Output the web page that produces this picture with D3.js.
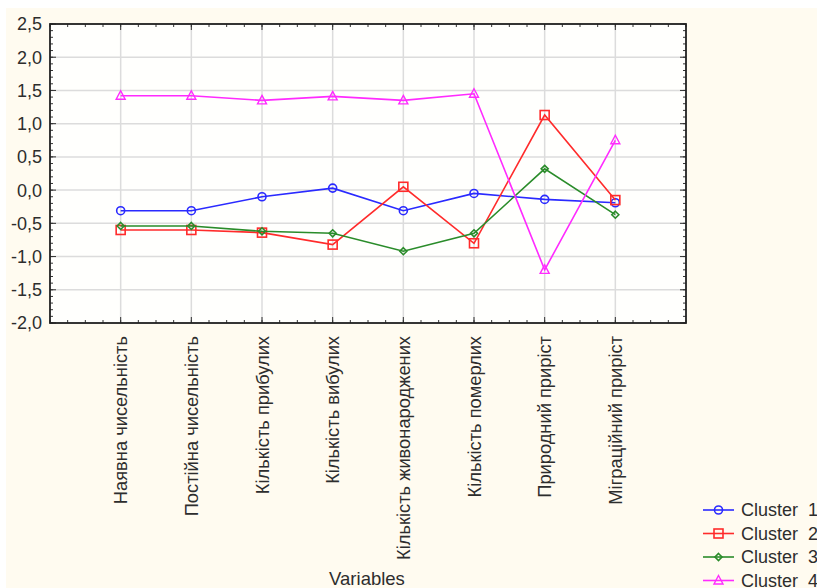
<!DOCTYPE html>
<html>
<head>
<meta charset="utf-8">
<script src="https://cdn.jsdelivr.net/npm/d3@7"></script>
<style>
  body { margin: 0; background: #fff; }
  svg { display: block; font-family: Arial, "Liberation Sans", sans-serif; }
</style>
</head>
<body>
<svg id="chart"></svg>
<script>
const variables = [
  "Наявна чисельність",
  "Постійна чисельність",
  "Кількість прибулих",
  "Кількість вибулих",
  "Кількість живонароджених",
  "Кількість померлих",
  "Природний приріст",
  "Міграційний приріст",
];

const cluster1 = [-0.31, -0.31, -0.1, 0.03, -0.31, -0.05, -0.14, -0.19];
const cluster2 = [-0.6, -0.6, -0.64, -0.82, 0.05, -0.8, 1.13, -0.15];
const cluster3 = [-0.54, -0.54, -0.62, -0.65, -0.92, -0.65, 0.32, -0.37];
const cluster4 = [1.42, 1.42, 1.35, 1.41, 1.35, 1.45, -1.2, 0.75];

const seriesNames = ["Cluster  1", "Cluster  2", "Cluster  3", "Cluster  4"];
const seriesColors = ["#2a2aff", "#ff2b2b", "#2a8c2a", "#ff2bff"];
const seriesShapes = ["circle", "square", "diamond", "triangle"];
const yTicks = [-2, -1.5, -1, -0.5, 0, 0.5, 1, 1.5, 2, 2.5];

const allSeries = [cluster1, cluster2, cluster3, cluster4];

const svgWidth = 817;
const svgHeight = 588;
const m_left = 50;
const m_top = 24;
const width = 636;
const height = 299;
const textCol = "#2d2d2d";

const svg = d3.select("#chart").attr("width", svgWidth).attr("height", svgHeight);

svg.append("rect")
  .attr("x", 6).attr("y", 8)
  .attr("width", svgWidth - 6).attr("height", svgHeight - 8)
  .attr("fill", "#fffbf0");

const plot = svg.append("g").attr("transform", `translate(${m_left}, ${m_top})`);

const xScale = d3.scaleLinear().domain([0, variables.length + 1]).range([0, width]);
const yScale = d3.scaleLinear().domain([-2, 2.5]).range([height, 0]);

plot.append("rect")
  .attr("width", width).attr("height", height)
  .attr("fill", "#fffffd");

// grid
const xIdx = d3.range(1, variables.length + 1);
plot.selectAll(".vgrid").data(xIdx).join("line")
  .attr("x1", (d) => xScale(d)).attr("x2", (d) => xScale(d))
  .attr("y1", 0).attr("y2", height)
  .attr("stroke", "#dcdcdc").attr("stroke-width", 1.5);
plot.selectAll(".hgrid").data(yTicks).join("line")
  .attr("y1", (d) => yScale(d)).attr("y2", (d) => yScale(d))
  .attr("x1", 0).attr("x2", width)
  .attr("stroke", "#dcdcdc").attr("stroke-width", 1.5);

// inward ticks on all four sides
const xMinor = d3.range(0, (variables.length + 1) * 4 + 1).map((i) => i / 4);
const yMinor = d3.range(-20, 26).map((i) => i / 10);
function ticks(data, scale, horizontal, pos, dir, len) {
  plot.append("g").selectAll("line").data(data).join("line")
    .attr(horizontal ? "x1" : "y1", (d) => scale(d))
    .attr(horizontal ? "x2" : "y2", (d) => scale(d))
    .attr(horizontal ? "y1" : "x1", pos)
    .attr(horizontal ? "y2" : "x2", pos + dir * len)
    .attr("stroke", "#333").attr("stroke-width", 1);
}
ticks(xMinor, xScale, true, height, -1, 3);
ticks(xMinor, xScale, true, 0, 1, 3);
ticks(xIdx, xScale, true, height, -1, 6);
ticks(xIdx, xScale, true, 0, 1, 6);
ticks(yMinor, yScale, false, 0, 1, 3);
ticks(yMinor, yScale, false, width, -1, 3);
ticks(yTicks, yScale, false, 0, 1, 6);
ticks(yTicks, yScale, false, width, -1, 6);

plot.append("rect")
  .attr("width", width).attr("height", height)
  .attr("fill", "none").attr("stroke", "#222").attr("stroke-width", 1.8);

// y labels
const fmt = (d) => d3.format(".1f")(d).replace(".", ",").replace("−", "-");
plot.selectAll(".ylab").data(yTicks).join("text")
  .attr("x", -8).attr("y", (d) => yScale(d))
  .attr("dy", "0.36em")
  .attr("text-anchor", "end")
  .attr("font-size", 18)
  .attr("fill", textCol)
  .text(fmt);

// x labels
plot.selectAll(".xlab").data(variables).join("text")
  .attr("transform", (d, i) => `translate(${xScale(i + 1) + 6.5}, ${height + 13}) rotate(-90)`)
  .attr("text-anchor", "end")
  .attr("font-size", 18.3)
  .attr("fill", textCol)
  .text((d) => d);

svg.append("text")
  .attr("x", 367).attr("y", 585)
  .attr("text-anchor", "middle")
  .attr("font-size", 18.5)
  .attr("fill", textCol)
  .text("Variables");

// markers
function marker(g, shape, color) {
  if (shape === "circle") {
    g.append("circle").attr("r", 4).attr("fill", "none").attr("stroke", color).attr("stroke-width", 1.6);
  } else if (shape === "square") {
    g.append("rect").attr("x", -4.5).attr("y", -4.5).attr("width", 9).attr("height", 9)
      .attr("fill", "none").attr("stroke", color).attr("stroke-width", 1.6);
  } else if (shape === "diamond") {
    g.append("path").attr("d", "M0,-3.5L3.5,0L0,3.5L-3.5,0Z")
      .attr("fill", "none").attr("stroke", color).attr("stroke-width", 1.6);
  } else {
    g.append("path").attr("d", "M0,-5L4.5,3.5L-4.5,3.5Z")
      .attr("fill", "none").attr("stroke", color).attr("stroke-width", 1.4);
  }
}

const line = d3.line().x((d, i) => xScale(i + 1)).y((d) => yScale(d));

allSeries.forEach((vals, s) => {
  plot.append("path")
    .datum(vals)
    .attr("d", line)
    .attr("fill", "none")
    .attr("stroke", seriesColors[s])
    .attr("stroke-width", 1.6);
  vals.forEach((v, i) => {
    const g = plot.append("g").attr("transform", `translate(${xScale(i + 1)}, ${yScale(v)})`);
    marker(g, seriesShapes[s], seriesColors[s]);
  });
});

// legend
const legend = svg.append("g").attr("transform", "translate(703, 510)");
seriesNames.forEach((name, s) => {
  const g = legend.append("g").attr("transform", `translate(0, ${s * 23.5})`);
  g.append("line").attr("x1", 0).attr("x2", 31).attr("y1", 0).attr("y2", 0)
    .attr("stroke", seriesColors[s]).attr("stroke-width", 1.6);
  const mg = g.append("g").attr("transform", "translate(15.5, 0)");
  marker(mg, seriesShapes[s], seriesColors[s]);
  g.append("text").attr("x", 38).attr("y", 0).attr("dy", "0.36em")
    .attr("font-size", 18).attr("fill", textCol)
    .style("white-space", "pre")
    .text(name);
});
</script>
</body>
</html>
